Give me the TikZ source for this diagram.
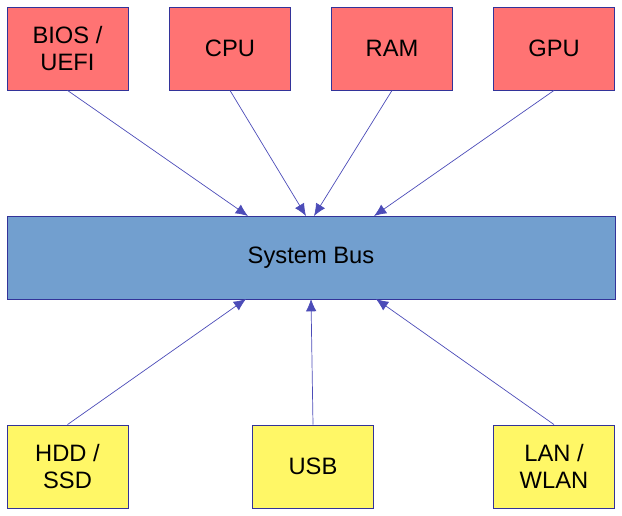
\documentclass[tikz,border=0pt]{standalone}
\usepackage{fontspec}
\setmainfont{Liberation Sans}
\usetikzlibrary{arrows.meta}
\begin{document}
\begin{tikzpicture}[x=0.02cm,y=-0.02cm,
  box/.style={draw=blue!50!black!80, line width=0.5pt, minimum width=2.42cm, minimum height=1.66cm, align=center, font=\fontsize{13.5}{15.5}\selectfont, inner sep=0pt},
  redbox/.style={box, fill=red!55!white},
  yelbox/.style={box, fill=yellow!60!white},
  link/.style={draw=blue!60!black!70, line width=0.4pt, -{Latex[length=7pt,width=6pt]}}]
\useasboundingbox (0,0) rectangle (622,515);
\definecolor{busblue}{HTML}{729FCF}
\tikzset{red/.code=}
\node[redbox] (bios) at (67.5,48.5) {BIOS /\\UEFI};
\node[redbox] (cpu) at (230,48.5) {CPU};
\node[redbox] (ram) at (392,48.5) {RAM};
\node[redbox] (gpu) at (554,48.5) {GPU};
\node[box, fill=busblue, minimum width=12.16cm] (bus) at (311,257.5) {System Bus};
\node[yelbox] (hdd) at (67.5,466.5) {HDD /\\SSD};
\node[yelbox] (usb) at (313,466.5) {USB};
\node[yelbox] (lan) at (554,466.5) {LAN /\\WLAN};
\coordinate (t1) at (248,216);
\coordinate (t2) at (306,216);
\coordinate (t3) at (314,216);
\coordinate (t4) at (374,216);
\coordinate (b1) at (246,299);
\coordinate (b2) at (311,299);
\coordinate (b3) at (376,299);
\draw[link] (bios.south) -- (t1);
\draw[link] (cpu.south) -- (t2);
\draw[link] (ram.south) -- (t3);
\draw[link] (gpu.south) -- (t4);
\draw[link] (hdd.north) -- (b1);
\draw[link] (usb.north) -- (b2);
\draw[link] (lan.north) -- (b3);
\end{tikzpicture}
\end{document}
